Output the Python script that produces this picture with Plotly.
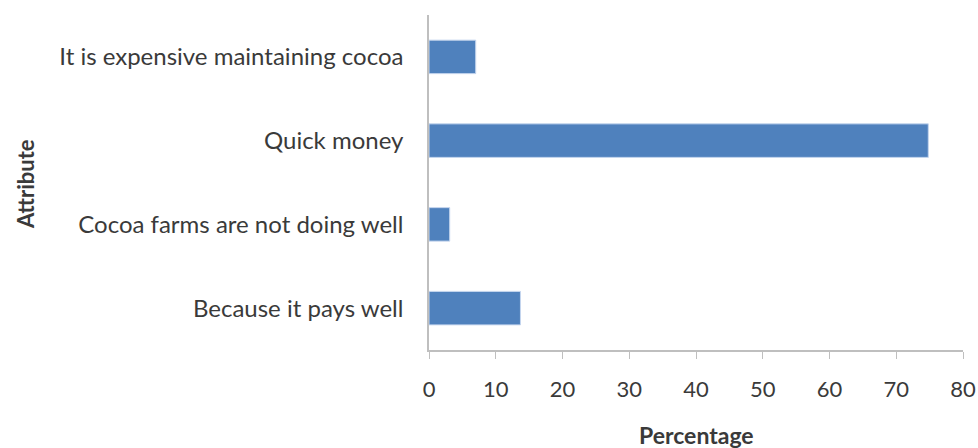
import plotly.graph_objects as go

categories = ["Because it pays well", "Cocoa farms are not doing well", "Quick money", "It is expensive maintaining cocoa"]
values = [13.7, 3.1, 74.8, 7.0]
x_ticks = [0, 10, 20, 30, 40, 50, 60, 70, 80]

FONT = "Lato"
TXT = "#3a3a3a"

W, H = 978, 448
L, T = 429, 15
plot_w, plot_h = 534, 335
R = W - L - plot_w
B = H - T - plot_h


def px_x(px):
    return (px - L) / plot_w


def px_y(py):
    return (H - B - py) / plot_h


fig = go.Figure(go.Bar(
    y=categories, x=values, orientation="h",
    marker=dict(color="#4F81BD", line=dict(color="#C6D6EE", width=1)),
    width=0.4,
))

fig.update_layout(
    width=W, height=H,
    margin=dict(l=L, r=R, t=T, b=B, autoexpand=False),
    plot_bgcolor="white", paper_bgcolor="white",
    showlegend=False,
    font=dict(family=FONT, size=22, color=TXT),
    xaxis=dict(range=[0, 80], tickvals=x_ticks, showgrid=False, zeroline=False,
               showline=True, linecolor="#BFBFBF", linewidth=1.5, automargin=False,
               ticks="outside", ticklen=7, tickcolor="#BFBFBF",
               ticklabelstandoff=12, tickfont=dict(size=22, family=FONT, color=TXT)),
    yaxis=dict(showgrid=False, zeroline=False, showline=True, linecolor="#BFBFBF", linewidth=1.5,
               automargin=False, ticks="", ticklabelstandoff=19,
               tickfont=dict(size=24, family=FONT, color=TXT),
               range=[-0.5, 3.5]),
    annotations=[
        dict(text="<b>Percentage</b>", x=0.5, xref="paper", y=px_y(435), yref="paper",
             xanchor="center", yanchor="middle",
             showarrow=False, font=dict(size=23, family=FONT, color=TXT)),
        dict(text="<b>Attribute</b>", x=px_x(25), xref="paper", y=px_y(184), yref="paper",
             xanchor="center", yanchor="middle",
             showarrow=False, textangle=-90,
             font=dict(size=22, family=FONT, color=TXT)),
    ],
)

fig.write_html(
    "out.html",
    config={"displayModeBar": False},
    post_script="document.body.style.margin='0';document.body.style.overflow='hidden';",
)
